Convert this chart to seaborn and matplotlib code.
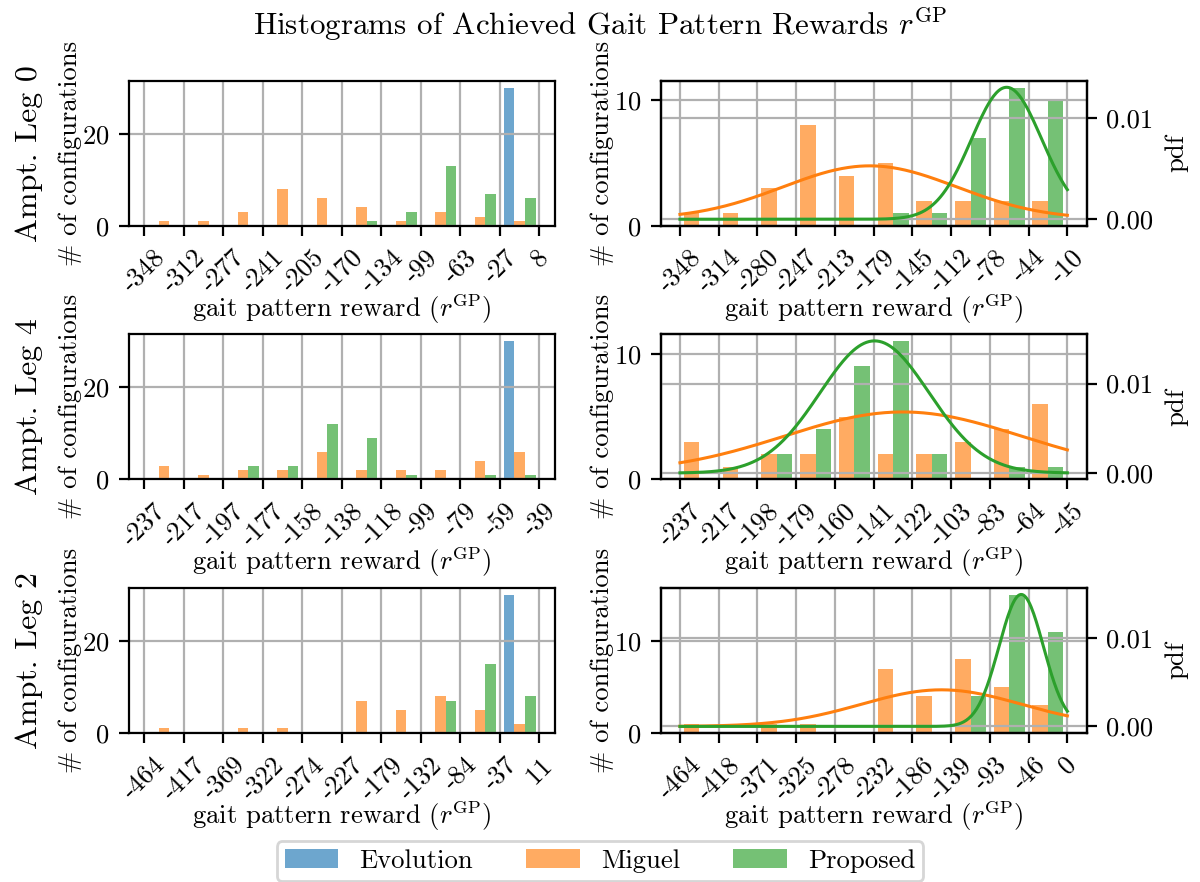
import numpy as np
import pandas as pd
import matplotlib
matplotlib.use("Agg")
import matplotlib.pyplot as plt
import seaborn as sns
from matplotlib.patches import Patch
from matplotlib.colors import to_rgba
from matplotlib.ticker import FormatStrFormatter

plt.rcParams.update({
    "font.family": ["cmr10", "DejaVu Serif"],
    "mathtext.fontset": "cm",
    "axes.unicode_minus": False,
    "axes.formatter.use_mathtext": True,
    "font.size": 9.6,
    "axes.grid": True,
})

# ---------------- data ----------------
methods = ["Evolution", "Miguel", "Proposed"]
colors = {"Evolution": "#1f77b4", "Miguel": "#ff7f0e", "Proposed": "#2ca02c"}
row_labels = ["Ampt. Leg 0", "Ampt. Leg 4", "Ampt. Leg 2"]

# left column: all three methods
left_range = [(-347.8, 8.2), (-236.6, -39.4), (-464.2, 11.0)]
left_ticklabels = [
    ["-348", "-312", "-277", "-241", "-205", "-170", "-134", "-99", "-63", "-27", "8"],
    ["-237", "-217", "-197", "-177", "-158", "-138", "-118", "-99", "-79", "-59", "-39"],
    ["-464", "-417", "-369", "-322", "-274", "-227", "-179", "-132", "-84", "-37", "11"],
]
evolution_left = [
    [0, 0, 0, 0, 0, 0, 0, 0, 0, 30],
    [0, 0, 0, 0, 0, 0, 0, 0, 0, 30],
    [0, 0, 0, 0, 0, 0, 0, 0, 0, 30],
]
miguel_left = [
    [1, 1, 3, 8, 6, 4, 1, 3, 2, 1],
    [3, 1, 2, 2, 6, 2, 2, 2, 4, 6],
    [1, 0, 1, 1, 0, 7, 5, 8, 5, 2],
]
proposed_left = [
    [0, 0, 0, 0, 0, 1, 3, 13, 7, 6],
    [0, 0, 3, 3, 12, 9, 1, 0, 1, 1],
    [0, 0, 0, 0, 0, 0, 0, 7, 15, 8],
]

# right column: Miguel and Proposed with fitted normal pdfs
right_range = [(-347.8, -10.3), (-236.6, -45.1), (-464.2, 0.2)]
right_ticklabels = [
    ["-348", "-314", "-280", "-247", "-213", "-179", "-145", "-112", "-78", "-44", "-10"],
    ["-237", "-217", "-198", "-179", "-160", "-141", "-122", "-103", "-83", "-64", "-45"],
    ["-464", "-418", "-371", "-325", "-278", "-232", "-186", "-139", "-93", "-46", "0"],
]
miguel_right = [
    [1, 1, 3, 8, 4, 5, 2, 2, 2, 2],
    [3, 1, 2, 2, 5, 2, 2, 3, 4, 6],
    [1, 0, 1, 1, 0, 7, 4, 8, 5, 3],
]
proposed_right = [
    [0, 0, 0, 0, 0, 1, 1, 7, 11, 10],
    [0, 0, 2, 4, 9, 11, 2, 0, 1, 1],
    [0, 0, 0, 0, 0, 0, 0, 4, 15, 11],
]
miguel_fit = [(-182.4, 75.6), (-126.4, 58.4), (-150.8, 95.9)]    # (mean, std)
proposed_fit = [(-63.2, 30.6), (-140.4, 27.0), (-55.1, 26.6)]

left_yticks = [0, 20]
right_yticks = [0, 10]
pdf_ticks = [0.0, 0.01]

BAR_ALPHA = 0.65
N_BINS = 10
XTICK_SIZE = 9.6


def bin_frame(edges, series):
    rows = []
    centers = (edges[:-1] + edges[1:]) / 2
    for name, counts in series:
        for c, w in zip(centers, counts):
            rows.append({"reward": float(c), "count": float(w), "method": name})
    return pd.DataFrame(rows)


def normal_pdf(x, mu, sd):
    return np.exp(-0.5 * ((x - mu) / sd) ** 2) / (sd * np.sqrt(2 * np.pi))


fig, axes = plt.subplots(3, 2, figsize=(6, 4.41), dpi=200)
fig.subplots_adjust(left=0.1073, right=0.9056, top=0.9085, bottom=0.1689,
                    wspace=0.248, hspace=0.747)

xlabel = r"gait pattern reward ($r^{\mathrm{GP}}$)"


def style_axis(ax, edges, ticklabels, yticks):
    ax.set_xticks(edges)
    ax.set_xticklabels(ticklabels, rotation=45, fontsize=XTICK_SIZE)
    ax.set_yticks(yticks)
    ax.set_xlabel(xlabel, labelpad=-2)
    ax.set_ylabel("# of configurations")
    ax.yaxis.set_label_coords(-0.11, 0.5)
    ax.grid(True)


for r in range(3):
    # ---- left ----
    ax = axes[r, 0]
    lo, hi = left_range[r]
    edges = np.linspace(lo, hi, N_BINS + 1)
    df = bin_frame(edges, [("Evolution", evolution_left[r]),
                           ("Miguel", miguel_left[r]),
                           ("Proposed", proposed_left[r])])
    sns.histplot(data=df, x="reward", weights="count", hue="method",
                 hue_order=methods, palette=colors, bins=edges.tolist(),
                 multiple="dodge", shrink=0.8, alpha=BAR_ALPHA,
                 linewidth=0, edgecolor="none", legend=False, ax=ax)
    style_axis(ax, edges, left_ticklabels[r], left_yticks)

    # ---- right ----
    ax = axes[r, 1]
    lo, hi = right_range[r]
    edges = np.linspace(lo, hi, N_BINS + 1)
    df = bin_frame(edges, [("Miguel", miguel_right[r]),
                           ("Proposed", proposed_right[r])])
    sns.histplot(data=df, x="reward", weights="count", hue="method",
                 hue_order=["Miguel", "Proposed"], palette=colors, bins=edges.tolist(),
                 multiple="dodge", shrink=0.8, alpha=BAR_ALPHA,
                 linewidth=0, edgecolor="none", legend=False, ax=ax)
    style_axis(ax, edges, right_ticklabels[r], right_yticks)

    ax2 = ax.twinx()
    xs = np.linspace(lo, hi, 300)
    for name, fit in (("Miguel", miguel_fit[r]), ("Proposed", proposed_fit[r])):
        sns.lineplot(x=xs, y=normal_pdf(xs, *fit), ax=ax2, color=colors[name],
                     linewidth=1.1)
    ax2.set_yticks(pdf_ticks)
    ax2.yaxis.set_major_formatter(FormatStrFormatter("%.2f"))
    ax2.set_ylabel("pdf")
    ax2.grid(True)

    # row label
    pos = axes[r, 0].get_position()
    fig.text(29 / 1200, (pos.y0 + pos.y1) / 2, row_labels[r], rotation=90,
             ha="center", va="center", fontsize=11.5)

fig.suptitle(r"Histograms of Achieved Gait Pattern Rewards $r^{\mathrm{GP}}$",
             fontsize=11.2, y=0.993, va="top")

handles = [Patch(facecolor=to_rgba(colors[m], BAR_ALPHA), edgecolor="none") for m in methods]
fig.legend(handles, methods, loc="lower center", ncol=3,
           bbox_to_anchor=(0.5, 0.001), borderaxespad=0, borderpad=0.3)

fig.savefig("out.png", dpi=200)
